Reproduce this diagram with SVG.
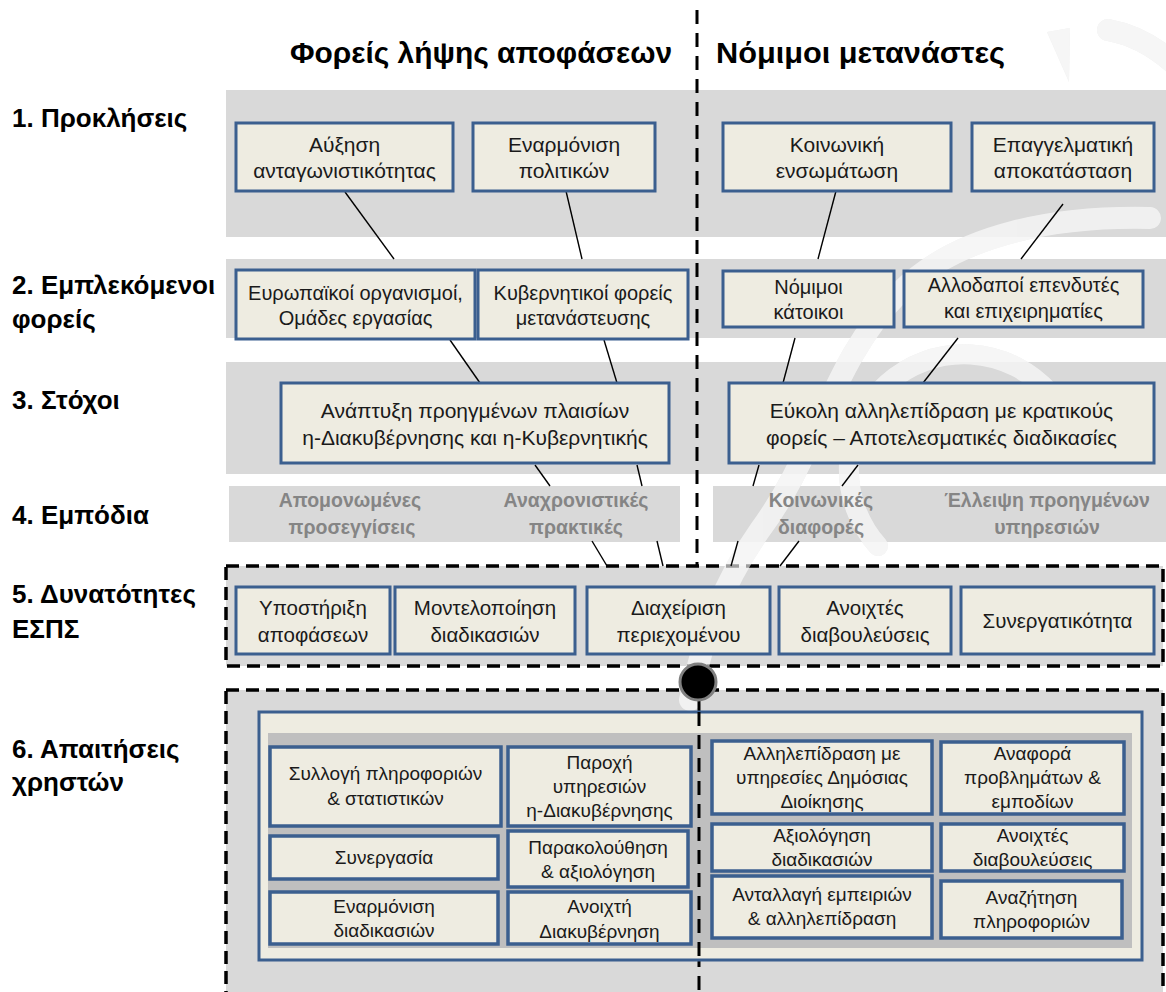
<svg xmlns="http://www.w3.org/2000/svg" xmlns:xlink="http://www.w3.org/1999/xlink" width="1166" height="992" viewBox="0 0 1166 992">
  <style>
    .band { fill: #d9d9d9; }
    .panel { fill: #bfbfbf; }
    .box { fill: #eeece1; stroke: #3b5f8f; stroke-width: 3; }
    .sub { fill: #eeece1; stroke: #3b5f8f; stroke-width: 3.5; }
    .t { font-family: "Liberation Sans", Arial, sans-serif; fill: #1a1a1a; text-anchor: middle; }
    .r1 { font-size: 21px; }
    .r2 { font-size: 20px; }
    .r5 { font-size: 20.5px; }
    .r6 { font-size: 19px; }
    .hdr { font-family: "Liberation Sans", Arial, sans-serif; font-weight: bold; font-size: 30px; fill: #000; }
    .lbl { font-family: "Liberation Sans", Arial, sans-serif; font-weight: bold; font-size: 26px; fill: #000; }
    .obs { font-family: "Liberation Sans", Arial, sans-serif; font-weight: bold; font-size: 19.5px; fill: #858585; text-anchor: middle; }
    .conn { stroke: #000; stroke-width: 1.4; fill: none; }
    .dashbox { fill: #d9d9d9; stroke: #000; stroke-width: 3.5; stroke-dasharray: 13 7; }
    .vdash { stroke: #000; stroke-width: 3; stroke-dasharray: 14 9; fill: none; }
  </style>
  <defs>
    <!-- faint background swirl -->
    <g id="swirl" fill="none" stroke="currentColor" stroke-linecap="round">
      <path d="M1108 30 Q1142 36 1172 62" stroke-width="22"/>
      <polygon points="1047,32 1070,28 1069,82" fill="currentColor" stroke="none"/>
      <path d="M1150 218 C1060 216 960 232 900 292 C832 360 818 452 760 530 C722 584 702 640 690 700" stroke-width="22"/>
      <path d="M878 546 A115 115 0 1 1 1050 393" stroke-width="20"/>
    </g>
  </defs>

  <rect width="1166" height="992" fill="#ffffff"/>
  <use xlink:href="#swirl" href="#swirl" color="#e8e8e8"/>

  <!-- row bands -->
  <g id="bands">
    <rect class="band" x="226" y="90" width="940" height="147"/>
    <rect class="band" x="226" y="259" width="940" height="79"/>
    <rect class="band" x="226" y="362" width="940" height="112"/>
    <rect class="band" x="229" y="486" width="451" height="56"/>
    <rect class="band" x="713" y="486" width="453" height="56"/>
    <rect class="dashbox" x="226" y="566" width="937" height="100"/>
    <rect class="dashbox" x="226" y="690" width="937" height="330"/>
  </g>
  <use xlink:href="#swirl" href="#swirl" color="#ffffff" opacity="0.62"/>

  <!-- column divider -->
  <line class="vdash" x1="697" y1="10" x2="697" y2="566"/>
  <line class="vdash" x1="699" y1="700" x2="699" y2="992"/>

  <!-- headings -->
  <text class="hdr" x="290" y="63" textLength="382" lengthAdjust="spacingAndGlyphs">Φορείς λήψης αποφάσεων</text>
  <text class="hdr" x="716" y="63" textLength="289" lengthAdjust="spacingAndGlyphs">Νόμιμοι μετανάστες</text>

  <g id="row-labels">
    <text class="lbl" x="12" y="127">1. Προκλήσεις</text>
    <text class="lbl" x="12" y="294">2. Εμπλεκόμενοι</text>
    <text class="lbl" x="12" y="328">φορείς</text>
    <text class="lbl" x="12" y="409">3. Στόχοι</text>
    <text class="lbl" x="12" y="524">4. Εμπόδια</text>
    <text class="lbl" x="12" y="603">5. Δυνατότητες</text>
    <text class="lbl" x="12" y="638">ΕΣΠΣ</text>
    <text class="lbl" x="12" y="758">6. Απαιτήσεις</text>
    <text class="lbl" x="12" y="791">χρηστών</text>
  </g>

  <!-- connectors -->
  <g id="connectors">
    <line class="conn" x1="345" y1="192" x2="394" y2="259"/>
    <line class="conn" x1="566" y1="191" x2="582" y2="259"/>
    <line class="conn" x1="836" y1="191" x2="818" y2="259"/>
    <line class="conn" x1="1063" y1="204" x2="1021" y2="259"/>
    <line class="conn" x1="450" y1="340" x2="480" y2="383"/>
    <line class="conn" x1="604" y1="340" x2="617" y2="383"/>
    <line class="conn" x1="795" y1="338" x2="783" y2="383"/>
    <line class="conn" x1="958" y1="338" x2="923" y2="383"/>
    <line class="conn" x1="535" y1="465" x2="550" y2="486"/>
    <line class="conn" x1="592" y1="541" x2="607" y2="566"/>
    <line class="conn" x1="637" y1="465" x2="642" y2="486"/>
    <line class="conn" x1="657" y1="541" x2="663" y2="566"/>
    <line class="conn" x1="759" y1="465" x2="753" y2="486"/>
    <line class="conn" x1="738" y1="541" x2="731" y2="566"/>
    <line class="conn" x1="858" y1="465" x2="842" y2="486"/>
    <line class="conn" x1="799" y1="541" x2="780" y2="566"/>
  </g>

  <!-- 1. challenges -->
  <g id="n-ayxisi">
    <rect class="box" x="236" y="123" width="217" height="68"/>
    <text class="t r1" x="344.5" y="152">Αύξηση</text>
    <text class="t r1" x="344.5" y="178">ανταγωνιστικότητας</text>
  </g>
  <g id="n-enarmonisi-pol">
    <rect class="box" x="473" y="123" width="182" height="68"/>
    <text class="t r1" x="564" y="152">Εναρμόνιση</text>
    <text class="t r1" x="564" y="178">πολιτικών</text>
  </g>
  <g id="n-koinoniki">
    <rect class="box" x="723" y="123" width="228" height="68"/>
    <text class="t r1" x="837" y="152">Κοινωνική</text>
    <text class="t r1" x="837" y="178">ενσωμάτωση</text>
  </g>
  <g id="n-epaggelmatiki">
    <rect class="box" x="972" y="123" width="182" height="68"/>
    <text class="t r1" x="1063" y="152">Επαγγελματική</text>
    <text class="t r1" x="1063" y="178">αποκατάσταση</text>
  </g>

  <!-- 2. stakeholders -->
  <g id="n-eyropaikoi">
    <rect class="box" x="236" y="270" width="239" height="69"/>
    <text class="t r2" x="355.5" y="300">Ευρωπαϊκοί οργανισμοί,</text>
    <text class="t r2" x="355.5" y="325">Ομάδες εργασίας</text>
  </g>
  <g id="n-kyvernitikoi">
    <rect class="box" x="478" y="270" width="210" height="69"/>
    <text class="t r2" x="583" y="300">Κυβερνητικοί φορείς</text>
    <text class="t r2" x="583" y="325">μετανάστευσης</text>
  </g>
  <g id="n-nomimoi">
    <rect class="box" x="723" y="271" width="171" height="56"/>
    <text class="t r2" x="808.5" y="294">Νόμιμοι</text>
    <text class="t r2" x="808.5" y="319">κάτοικοι</text>
  </g>
  <g id="n-allodapoi">
    <rect class="box" x="904" y="271" width="239" height="56"/>
    <text class="t r2" x="1023.5" y="292">Αλλοδαποί επενδυτές</text>
    <text class="t r2" x="1023.5" y="318">και επιχειρηματίες</text>
  </g>

  <!-- 3. goals -->
  <g id="n-anaptyxi">
    <rect class="box" x="281" y="383" width="388" height="80"/>
    <text class="t r1" x="475" y="418">Ανάπτυξη προηγμένων πλαισίων</text>
    <text class="t r1" x="475" y="445">η-Διακυβέρνησης και η-Κυβερνητικής</text>
  </g>
  <g id="n-eykoli">
    <rect class="box" x="729" y="383" width="425" height="80"/>
    <text class="t r1" x="941.5" y="418">Εύκολη αλληλεπίδραση με κρατικούς</text>
    <text class="t r1" x="941.5" y="445">φορείς – Αποτελεσματικές διαδικασίες</text>
  </g>

  <!-- 4. obstacles -->
  <g id="n-obstacles">
    <text class="obs" x="350" y="507">Απομονωμένες</text>
    <text class="obs" x="352" y="534">προσεγγίσεις</text>
    <text class="obs" x="576" y="507">Αναχρονιστικές</text>
    <text class="obs" x="576" y="534">πρακτικές</text>
    <text class="obs" x="821" y="507">Κοινωνικές</text>
    <text class="obs" x="821" y="534">διαφορές</text>
    <text class="obs" x="1047" y="507">Έλλειψη προηγμένων</text>
    <text class="obs" x="1047" y="534">υπηρεσιών</text>
  </g>

  <!-- 5. capabilities -->
  <g id="n-ypostirixi">
    <rect class="box" x="236" y="587" width="154" height="67"/>
    <text class="t r5" x="313" y="615">Υποστήριξη</text>
    <text class="t r5" x="313" y="642">αποφάσεων</text>
  </g>
  <g id="n-montelopoiisi">
    <rect class="box" x="395" y="587" width="180" height="67"/>
    <text class="t r5" x="485" y="615">Μοντελοποίηση</text>
    <text class="t r5" x="485" y="642">διαδικασιών</text>
  </g>
  <g id="n-diaxeirisi">
    <rect class="box" x="587" y="587" width="183" height="67"/>
    <text class="t r5" x="678.5" y="615">Διαχείριση</text>
    <text class="t r5" x="678.5" y="642">περιεχομένου</text>
  </g>
  <g id="n-anoixtes">
    <rect class="box" x="779" y="587" width="172" height="67"/>
    <text class="t r5" x="865" y="615">Ανοιχτές</text>
    <text class="t r5" x="865" y="642">διαβουλεύσεις</text>
  </g>
  <g id="n-synergatikotita">
    <rect class="box" x="961" y="587" width="193" height="67"/>
    <text class="t r5" x="1057.5" y="628">Συνεργατικότητα</text>
  </g>

  <!-- junction -->
  <circle cx="698" cy="682" r="18" fill="#000" stroke="#808080" stroke-width="3"/>

  <!-- 6. user requirements -->
  <g id="n-requirements">
    <rect class="box" x="259" y="712" width="883" height="248"/>
    <rect class="panel" x="268" y="733" width="864" height="215"/>
    <line class="vdash" x1="699" y1="712" x2="699" y2="960"/>
  </g>
  <g id="n-syllogi">
    <rect class="sub" x="270" y="747" width="231" height="79"/>
    <text class="t r6" x="385.5" y="780">Συλλογή πληροφοριών</text>
    <text class="t r6" x="385.5" y="805">&amp; στατιστικών</text>
  </g>
  <g id="n-paroxi">
    <rect class="sub" x="508" y="747" width="183" height="79"/>
    <text class="t r6" x="599.5" y="769">Παροχή</text>
    <text class="t r6" x="599.5" y="793">υπηρεσιών</text>
    <text class="t r6" x="599.5" y="817">η-Διακυβέρνησης</text>
  </g>
  <g id="n-synergasia">
    <rect class="sub" x="270" y="836" width="228" height="43"/>
    <text class="t r6" x="384" y="864">Συνεργασία</text>
  </g>
  <g id="n-parakolouthisi">
    <rect class="sub" x="508" y="831" width="180" height="56"/>
    <text class="t r6" x="598" y="854">Παρακολούθηση</text>
    <text class="t r6" x="598" y="878">&amp; αξιολόγηση</text>
  </g>
  <g id="n-enarmonisi-diad">
    <rect class="sub" x="270" y="892" width="228" height="52"/>
    <text class="t r6" x="384" y="913">Εναρμόνιση</text>
    <text class="t r6" x="384" y="937">διαδικασιών</text>
  </g>
  <g id="n-anoixti">
    <rect class="sub" x="508" y="892" width="183" height="52"/>
    <text class="t r6" x="599.5" y="913">Ανοιχτή</text>
    <text class="t r6" x="599.5" y="938">Διακυβέρνηση</text>
  </g>
  <g id="n-allilepidrasi">
    <rect class="sub" x="712" y="741" width="220" height="73"/>
    <text class="t r6" x="822" y="760">Αλληλεπίδραση με</text>
    <text class="t r6" x="822" y="784">υπηρεσίες Δημόσιας</text>
    <text class="t r6" x="822" y="808">Διοίκησης</text>
  </g>
  <g id="n-anafora">
    <rect class="sub" x="941" y="742" width="183" height="72"/>
    <text class="t r6" x="1032.5" y="760">Αναφορά</text>
    <text class="t r6" x="1032.5" y="784">προβλημάτων &amp;</text>
    <text class="t r6" x="1032.5" y="808">εμποδίων</text>
  </g>
  <g id="n-axiologisi">
    <rect class="sub" x="712" y="824" width="220" height="47"/>
    <text class="t r6" x="822" y="842">Αξιολόγηση</text>
    <text class="t r6" x="822" y="866">διαδικασιών</text>
  </g>
  <g id="n-anoixtes-diav">
    <rect class="sub" x="941" y="824" width="183" height="47"/>
    <text class="t r6" x="1032.5" y="842">Ανοιχτές</text>
    <text class="t r6" x="1032.5" y="866">διαβουλεύσεις</text>
  </g>
  <g id="n-antallagi">
    <rect class="sub" x="712" y="876" width="220" height="62"/>
    <text class="t r6" x="822" y="901">Ανταλλαγή εμπειριών</text>
    <text class="t r6" x="822" y="925">&amp; αλληλεπίδραση</text>
  </g>
  <g id="n-anazitisi">
    <rect class="sub" x="941" y="881" width="181" height="57"/>
    <text class="t r6" x="1031.5" y="904">Αναζήτηση</text>
    <text class="t r6" x="1031.5" y="928">πληροφοριών</text>
  </g>
</svg>
